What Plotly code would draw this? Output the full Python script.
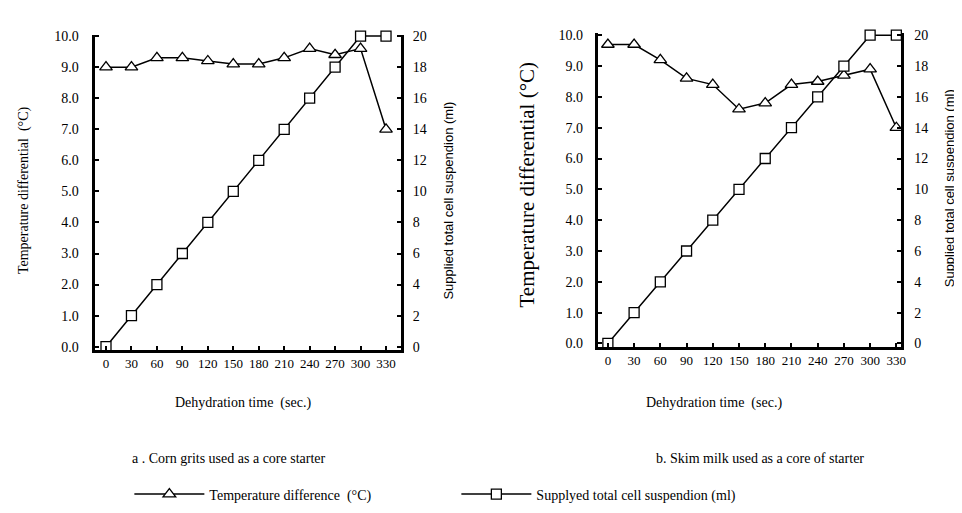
import plotly.graph_objects as go

# ---- data ----
time_sec = [0, 30, 60, 90, 120, 150, 180, 210, 240, 270, 300, 330]
x_tick_labels = ["0", "30", "60", "90", "120", "150", "180", "210", "240", "270", "300", "330"]

temp_a = [9.0, 9.0, 9.3, 9.3, 9.2, 9.1, 9.1, 9.3, 9.6, 9.4, 9.6, 7.0]
supply_a = [0, 2, 4, 6, 8, 10, 12, 14, 16, 18, 20, 20]

temp_b = [9.7, 9.7, 9.2, 8.6, 8.4, 7.6, 7.8, 8.4, 8.5, 8.7, 8.9, 7.0]
supply_b = [0, 2, 4, 6, 8, 10, 12, 14, 16, 18, 20, 20]

temp_ticks = [0, 1, 2, 3, 4, 5, 6, 7, 8, 9, 10]
temp_tick_labels = ["0.0", "1.0", "2.0", "3.0", "4.0", "5.0", "6.0", "7.0", "8.0", "9.0", "10.0"]
ml_ticks = [0, 2, 4, 6, 8, 10, 12, 14, 16, 18, 20]

name_temp = "Temperature difference  (°C)"
name_supply = "Supplyed total cell suspendion (ml)"

W, H = 962, 513
def px(x):
    return x / W
def py(y):
    return 1 - y / H

SERIF = "Liberation Serif, Times New Roman, serif"
SANS = "Liberation Sans, Arial, sans-serif"

fig = go.Figure()

line_style = dict(color="black", width=1.5)
tri = dict(symbol="triangle-up", size=11, color="white", line=dict(color="black", width=1.3))
sq = dict(symbol="square", size=10, color="white", line=dict(color="black", width=1.3))

# panel a
fig.add_trace(go.Scatter(x=time_sec, y=supply_a, xaxis="x", yaxis="y2", mode="lines+markers",
                         line=line_style, marker=sq, name=name_supply, showlegend=True,
                         legendrank=2, cliponaxis=False))
fig.add_trace(go.Scatter(x=time_sec, y=temp_a, xaxis="x", yaxis="y", mode="lines+markers",
                         line=line_style, marker=tri, name=name_temp, showlegend=True,
                         legendrank=1, cliponaxis=False))
# panel b
fig.add_trace(go.Scatter(x=time_sec, y=supply_b, xaxis="x2", yaxis="y4", mode="lines+markers",
                         line=line_style, marker=sq, name=name_supply, showlegend=False,
                         cliponaxis=False))
fig.add_trace(go.Scatter(x=time_sec, y=temp_b, xaxis="x2", yaxis="y3", mode="lines+markers",
                         line=line_style, marker=tri, name=name_temp, showlegend=False,
                         cliponaxis=False))

axis_common = dict(showline=True, linecolor="black", linewidth=3, showgrid=False, zeroline=False,
                   ticks="inside", ticklen=4, tickwidth=2, tickcolor="black", mirror=False)

xaxis_common = dict(axis_common, tickvals=time_sec, ticktext=x_tick_labels,
                    tickfont=dict(family=SERIF, size=13, color="black"))

fig.update_layout(
    width=W, height=H,
    margin=dict(l=0, r=0, t=0, b=0),
    paper_bgcolor="white", plot_bgcolor="white",
    xaxis=dict(xaxis_common, domain=[px(87), px(395)], range=[-13.5, 347.6], anchor="y"),
    yaxis=dict(axis_common, domain=[py(343), py(21)], range=[-0.095, 10.05], anchor="x",
               tickvals=temp_ticks, ticktext=temp_tick_labels, ticklabelstandoff=10,
               tickfont=dict(family=SERIF, size=14, color="black")),
    yaxis2=dict(axis_common, overlaying="y", side="right", anchor="x", range=[-0.19, 20.1],
                tickvals=ml_ticks, ticklabelstandoff=6,
                tickfont=dict(family=SERIF, size=14, color="black")),
    xaxis2=dict(xaxis_common, domain=[px(593), px(898)], range=[-11.4, 335.7], anchor="y3"),
    yaxis3=dict(axis_common, domain=[py(340), py(19)], range=[-0.105, 10.086], anchor="x2",
                tickvals=temp_ticks, ticktext=temp_tick_labels, ticklabelstandoff=9,
                tickfont=dict(family=SERIF, size=14, color="black")),
    yaxis4=dict(axis_common, overlaying="y3", side="right", anchor="x2", range=[-0.21, 20.17],
                tickvals=ml_ticks, ticklabelstandoff=7,
                tickfont=dict(family=SERIF, size=14, color="black")),
    legend=dict(orientation="h", x=px(122), y=py(491), xanchor="left", yanchor="middle",
                font=dict(family=SERIF, size=14, color="black"), itemwidth=70,
                entrywidth=242, entrywidthmode="pixels",
                traceorder="normal", bgcolor="rgba(0,0,0,0)"),
    showlegend=True,
)

def ann(text, x, y, size, family=SERIF, angle=0):
    fig.add_annotation(text=text, x=px(x), y=py(y), xref="paper", yref="paper",
                       showarrow=False, textangle=angle, xanchor="center", yanchor="middle",
                       font=dict(family=family, size=size, color="black"))

ann("Temperature differential  (°C)", 16, 180, 14, angle=-90)
ann("Supplied total cell suspendion (ml)", 443, 191, 13, family=SANS, angle=-90)
ann("Temperature differential (°C)", 522, 174, 21, angle=-90)
ann("Supplied total cell suspendion (ml)", 946, 178, 13, family=SANS, angle=-90)
ann("Dehydration time  (sec.)", 236, 398, 14)
ann("Dehydration time  (sec.)", 710, 398, 14)
ann("a . Corn grits used as a core starter", 222, 454, 14)
ann("b. Skim milk used as a core of starter", 756, 454, 14)

fig.write_html("out.html")
